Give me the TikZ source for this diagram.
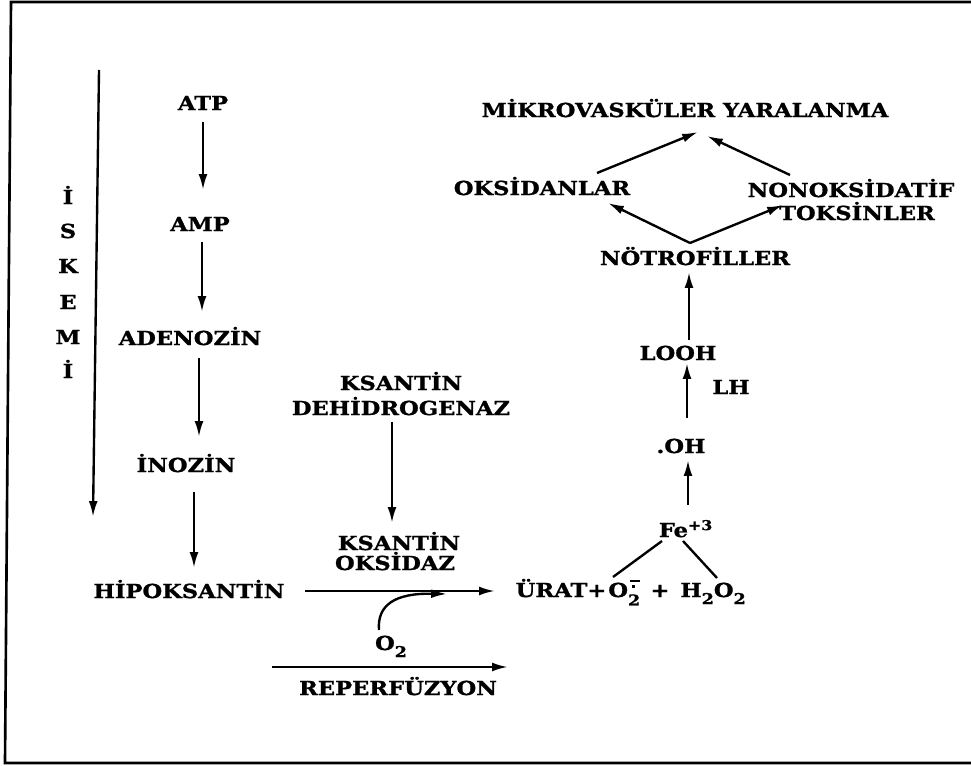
\documentclass[tikz,border=0pt]{standalone}
\usepackage{fontspec}
\usetikzlibrary{arrows.meta,calc}
\newfontfamily\lblfont{DejaVu Serif}[FakeStretch=1.17, FakeBold=1.2]
\newcommand\lsub[1]{\raisebox{-4pt}{\fontsize{8.5pt}{9pt}\selectfont #1}}
\newcommand\supox{\rlap{\hspace{1pt}\raisebox{8.4pt}{\rule{6pt}{1.1pt}}}\rlap{\hspace{2.4pt}\raisebox{5.2pt}{\rule{1.4pt}{1.4pt}}}\raisebox{-4.8pt}{\fontsize{8.5pt}{9pt}\selectfont 2}}
\begin{document}
\begin{tikzpicture}[x=0.02cm,y=-0.02cm,
  lbl/.style={inner sep=0pt, text height=8pt, text depth=0pt,
    font=\lblfont\fontsize{11pt}{13pt}\bfseries\selectfont},
  arr/.style={line width=1.35pt, -{Latex[length=9pt,width=5pt]}},
  ln/.style={line width=1.35pt}]
\useasboundingbox (0,0) rectangle (971,766);
% frame
\draw[line width=1.5pt] (971,2) -- (11,2) -- (5,763) -- (971,763);

% left column
\node[lbl] (atp) at (203,103) {ATP};
\node[lbl] (amp) at (200,224) {AMP};
\node[lbl] (ade) at (190,338) {ADENOZİN};
\node[lbl] (ino) at (186,465) {İNOZİN};
\node[lbl] (hipo) at (189,591) {HİPOKSANTİN};
\draw[arr] ($(atp)+(0,19)$) -- ($(amp)+(3,-34)$);
\draw[arr] ($(amp)+(2,18)$) -- ($(ade)+(12,-26)$);
\draw[arr] ($(ade)+(9,20)$) -- ($(ino)+(13,-28)$);
\draw[arr] ($(ino)+(8,27)$) -- ($(hipo)+(5,-23)$);

% ISKEMI
\node[lbl] (is1) at (68,197) {İ};
\node[lbl] (is2) at (68,231) {S};
\node[lbl] (is3) at (68,266) {K};
\node[lbl] (is4) at (68,302) {E};
\node[lbl] (is5) at (68,337) {M};
\node[lbl] (is6) at (68,371) {İ};
\coordinate (isk1) at (99,70);
\coordinate (isk2) at (93,517);
\draw[arr] (isk1) -- (isk2);

% xanthine enzymes
\node[lbl] (ksd1) at (401,383) {KSANTİN};
\node[lbl] (ksd2) at (401,408) {DEHİDROGENAZ};
\node[lbl] (kso1) at (399,543) {KSANTİN};
\node[lbl] (kso2) at (395,563) {OKSİDAZ};
\draw[arr] ($(ksd2)+(-9,14)$) -- ($(kso1)+(-7,-20)$);

% products
\node[lbl] (urat) at (561,590) {ÜRAT+};
\node[lbl,anchor=west] (supo) at (608,590) {O\supox};
\node[lbl] (plus) at (660,590) {+};
\node[lbl,anchor=west] (hp) at (680,590) {H\lsub{2}O\lsub{2}};
\draw[arr] ($(hipo)+(116,0)$) -- ($(urat)+(-66,1)$);

% O2 and reperfusion
\node[lbl] (o2) at (391,643) {O\lsub{2}};
\coordinate (o2end) at (447,594);
\draw[arr] ($(o2)+(-12,-13)$) .. controls (377,605) and (395,593) .. (o2end);
\coordinate (rp1) at (272,667);
\coordinate (rp2) at (508,667);
\draw[arr] (rp1) -- (rp2);
\node[lbl] (reperf) at (398,688) {REPERFÜZYON};

% right column
\node[lbl] (fe) at (686,530) {Fe\textsuperscript{+3}};
\draw[ln] ($(fe)+(-24,11)$) -- ($(supo.west)+(5,-13)$);
\draw[ln] ($(fe)+(-3,11)$) -- ($(hp.west)+(37,-12)$);
\node[lbl] (oh) at (681,446) {.OH};
\node[lbl] (looh) at (678,353) {LOOH};
\node[lbl] (lh) at (731,387) {LH};
\node[lbl] (notro) at (695,258) {NÖTROFİLLER};
\node[lbl] (oks) at (542,188) {OKSİDANLAR};
\node[lbl] (nonok) at (851,190) {NONOKSİDATİF};
\node[lbl] (toks) at (857,213) {TOKSİNLER};
\node[lbl] (mik) at (685,110) {MİKROVASKÜLER YARALANMA};
\draw[arr] ($(fe)+(2,-25)$) -- ($(oh)+(7,14)$);
\draw[arr] ($(oh)+(6,-28)$) -- ($(looh)+(9,10)$);
\draw[arr] ($(looh)+(11,-13)$) -- ($(notro)+(-6,14)$);
\draw[arr] ($(notro)+(-5,-15)$) -- ($(oks)+(66,15)$);
\draw[arr] ($(notro)+(-5,-15)$) -- ($(toks)+(-74,-8)$);
\draw[arr] ($(oks)+(55,-15)$) -- ($(mik)+(13,22)$);
\draw[arr] ($(nonok)+(-61,-15)$) -- ($(mik)+(22,26)$);
\end{tikzpicture}
\end{document}
